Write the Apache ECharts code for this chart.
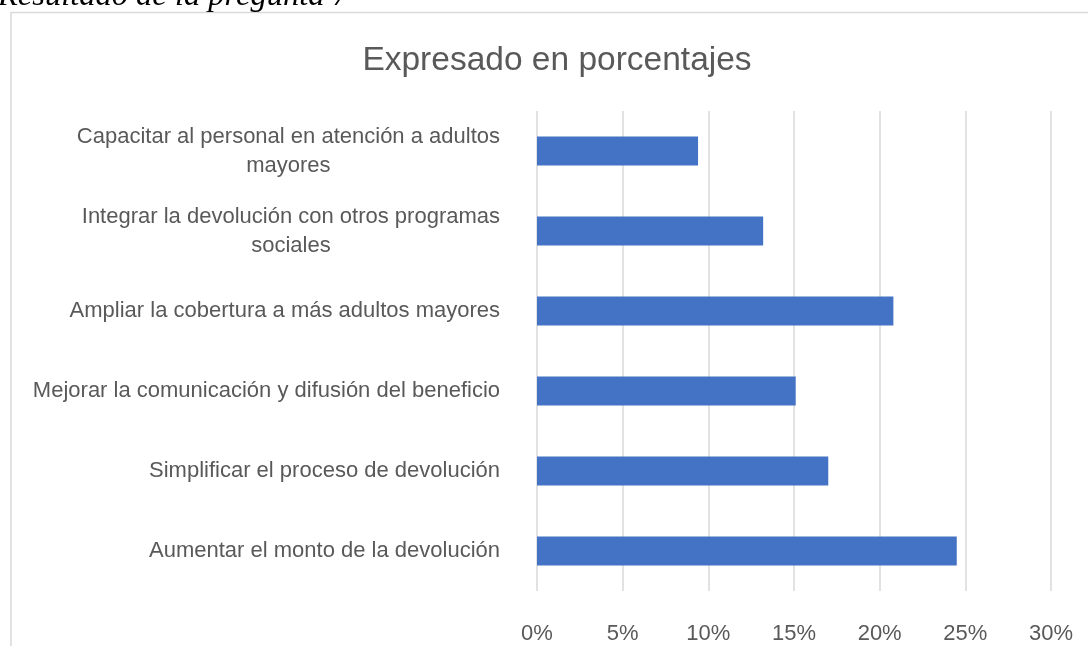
<!DOCTYPE html>
<html>
<head>
<meta charset="utf-8">
<script src="https://cdn.jsdelivr.net/npm/echarts@6/dist/echarts.min.js"></script>
<style>
  html, body { margin: 0; padding: 0; background: #fff; }
  #chart { width: 1088px; height: 646px; }
</style>
</head>
<body>
<div id="chart"></div>
<script>
// categories, bottom to top as ECharts draws them
var categories = [
  'Aumentar el monto de la devolución',
  'Simplificar el proceso de devolución',
  'Mejorar la comunicación y difusión del beneficio',
  'Ampliar la cobertura a más adultos mayores',
  'Integrar la devolución con otros programas\nsociales',
  'Capacitar al personal en atención a adultos\nmayores'
]
var values = [24.5, 17.0, 15.1, 20.8, 13.2, 9.4]
var titleText = 'Expresado en porcentajes'
var captionText = 'Resultado de la pregunta 7'

var chart = echarts.init(document.getElementById('chart'))
chart.setOption({
  backgroundColor: '#fff',
  animation: false,
  title: {
    text: titleText,
    left: 552,
    top: 39,
    textAlign: 'center',
    textStyle: {
      fontFamily: 'Liberation Sans',
      fontSize: 33.5,
      fontWeight: 'normal',
      color: '#595959'
    }
  },
  graphic: [
    {
      type: 'rect',
      shape: { x: 11, y: 12.5, width: 1200, height: 800 },
      style: { fill: 'none', stroke: '#d9d9d9', lineWidth: 1.5 },
      z: -1
    },
    {
      type: 'text',
      left: -2,
      top: -20,
      style: {
        text: captionText,
        fontFamily: 'Liberation Serif',
        fontStyle: 'italic',
        fontSize: 32.5,
        fill: '#000'
      }
    }
  ],
  grid: {
    left: 537,
    right: 37,
    top: 111,
    bottom: 55
  },
  xAxis: {
    type: 'value',
    min: 0,
    max: 30,
    interval: 5,
    axisLine: { show: false },
    axisTick: { show: false },
    axisLabel: {
      formatter: '{value}%',
      margin: 32,
      fontFamily: 'Liberation Sans',
      fontSize: 22,
      color: '#595959'
    },
    splitLine: {
      lineStyle: { color: '#d9d9d9', width: 1.5 }
    }
  },
  yAxis: {
    type: 'category',
    data: categories,
    axisLine: { show: false },
    axisTick: { show: false },
    axisLabel: {
      margin: 37,
      fontFamily: 'Liberation Sans',
      fontSize: 22,
      color: '#595959',
      // centre each line inside the right-aligned block, like Excel does
      formatter: function (v) {
        return v.split('\n').map(function (s) { return '{c|' + s + '}' }).join('\n')
      },
      rich: {
        c: {
          align: 'center',
          fontFamily: 'Liberation Sans',
          fontSize: 22,
          color: '#595959',
          lineHeight: 29
        }
      }
    }
  },
  series: [
    {
      type: 'bar',
      data: values,
      barCategoryGap: '64%',
      itemStyle: { color: '#4472c4' }
    }
  ]
})
</script>
</body>
</html>
